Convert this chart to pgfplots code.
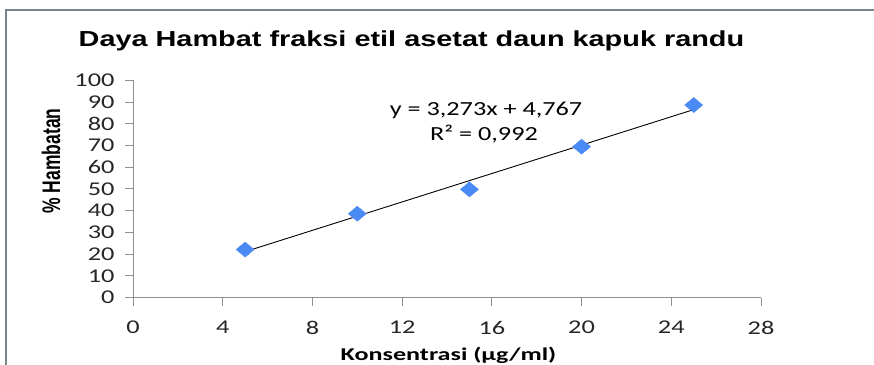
\documentclass[border=0pt]{standalone}
\usepackage{pgfplots}
\pgfplotsset{compat=1.18}
\usepackage{fontspec}
\setmainfont{Carlito}
\newfontfamily\tickfont[FakeStretch=1.35]{Carlito}
\newfontfamily\eqfont[FakeStretch=1.31]{Carlito}
\newfontfamily\xlabfont[FakeStretch=1.45]{Carlito}
\newfontfamily\titlefont[FakeStretch=1.33]{Liberation Sans}
\newfontfamily\ylabfont{Liberation Sans}
\definecolor{framecol}{HTML}{74878A}
\definecolor{axcol}{HTML}{8C9292}
\definecolor{markblue}{HTML}{4A8AF4}
\begin{document}
\begin{tikzpicture}
\useasboundingbox (0,0) rectangle (874bp,365bp);
\draw[line width=2bp, framecol] (6bp,0bp) -- (6bp,355bp) -- (874bp,355bp);
\begin{axis}[
  at={(133bp,67.5bp)}, anchor=south west,
  scale only axis, width=628bp, height=217bp,
  xmin=0, xmax=28, ymin=0, ymax=100,
  axis lines*=left,
  axis line style={axcol, line width=1bp},
  xtick={0,4,...,28}, ytick={0,10,...,100},
  tick style={axcol, line width=1bp},
  tick align=outside,
  major tick length=8bp,
  /pgf/number format/assume math mode=true,
  tick label style={font=\tickfont\fontsize{19.5bp}{22bp}\selectfont, text=black!85},
  xticklabel style={yshift=-12bp},
  yticklabel style={xshift=-7bp},
  clip=false,
]
\addplot[black, line width=0.9bp] coordinates {(5,21.132) (25,86.592)};
\addplot[only marks, mark=diamond*, mark size=7.5bp,
  mark options={xscale=1.6, fill=markblue, draw=markblue}]
  coordinates {(5,22.1) (10,38.6) (15,49.8) (20,69.5) (25,88.7)};
\end{axis}
\node[anchor=base, inner sep=0] at (411.5bp,318bp)
  {\titlefont\bfseries\fontsize{21.7bp}{25bp}\selectfont Daya Hambat fraksi etil asetat daun kapuk randu};
\node[rotate=90, inner sep=0] at (51bp,204bp)
  {\scalebox{1}[1.45]{\ylabfont\bfseries\fontsize{17.5bp}{20bp}\selectfont \% Hambatan}};
\node[anchor=base, inner sep=0] at (448.5bp,5bp)
  {\xlabfont\bfseries\fontsize{18bp}{21bp}\selectfont Konsentrasi (µg/ml)};
\node[anchor=base, inner sep=0] at (486bp,249bp)
  {\eqfont\fontsize{20bp}{24bp}\selectfont y = 3,273x + 4,767};
\node[anchor=base, inner sep=0] at (484bp,224bp)
  {\eqfont\fontsize{20bp}{24bp}\selectfont R² = 0,992};
\end{tikzpicture}
\end{document}
